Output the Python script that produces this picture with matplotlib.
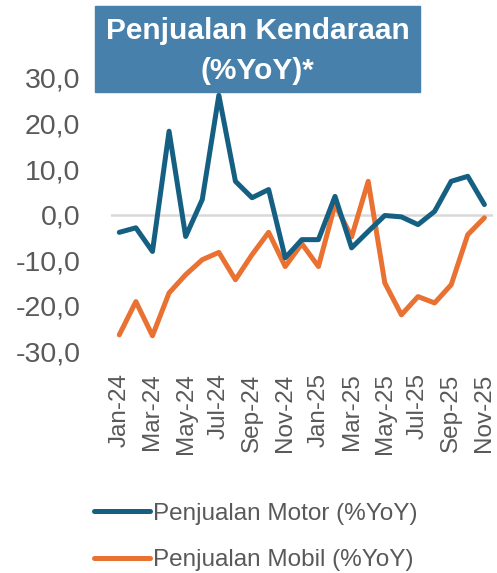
import matplotlib
matplotlib.use("Agg")
import matplotlib.pyplot as plt
from matplotlib.patches import Rectangle

plt.rcParams['font.family'] = ['Liberation Sans', 'DejaVu Sans']

months = ["Jan-24", "Feb-24", "Mar-24", "Apr-24", "May-24", "Jun-24",
          "Jul-24", "Aug-24", "Sep-24", "Oct-24", "Nov-24", "Dec-24",
          "Jan-25", "Feb-25", "Mar-25", "Apr-25", "May-25", "Jun-25",
          "Jul-25", "Aug-25", "Sep-25", "Oct-25", "Nov-25"]
motor = [-3.9, -2.9, -8.1, 18.3, -4.8, 3.3, 26.2, 7.3, 3.7, 5.5, -9.5, -5.5,
         -5.5, 4.0, -7.3, -3.7, -0.2, -0.5, -2.2, 0.7, 7.3, 8.4, 2.2]
mobil = [-26.4, -19.1, -26.6, -17.2, -13.2, -9.9, -8.3, -14.3, -8.8, -3.9,
         -11.4, -6.4, -11.4, 2.2, -4.9, 7.3, -15.0, -22.0, -18.0, -19.4,
         -15.4, -4.4, -0.7]
yticks = [30, 20, 10, 0, -10, -20, -30]

C_MOTOR = "#156082"
C_MOBIL = "#E97132"
C_TEXT = "#595959"

fig = plt.figure(figsize=(4.97, 5.73), dpi=100)
ax = fig.add_axes([0.2233, 0.387, 0.768, 0.477])

x = range(len(months))
ax.axhline(0, color="#D9D9D9", lw=1.8, zorder=1)
l1, = ax.plot(x, motor, color=C_MOTOR, lw=3.6, solid_joinstyle="round",
              solid_capstyle="round", label="Penjualan Motor (%YoY)", zorder=3)
l2, = ax.plot(x, mobil, color=C_MOBIL, lw=3.6, solid_joinstyle="round",
              solid_capstyle="round", label="Penjualan Mobil (%YoY)", zorder=2)

ax.set_xlim(-0.5, len(months) - 0.5)
ax.set_ylim(-30, 30)
ax.set_yticks(yticks)
ax.set_yticklabels([f"{v:.1f}".replace(".", ",") for v in yticks],
                   fontsize=20.5, color=C_TEXT)
ax.set_xticks(list(x)[::2])
ax.set_xticklabels(months[::2], rotation=90, fontsize=17.5, color=C_TEXT)
ax.tick_params(axis="y", length=0, pad=22)
ax.tick_params(axis="x", length=0, pad=16)
for s in ax.spines.values():
    s.set_visible(False)

# title box
fig.patches.append(Rectangle((95 / 497, 1 - 92 / 573), 325 / 497, 86 / 573,
                             transform=fig.transFigure, color="#4680AB",
                             zorder=5))
fig.text(257.5 / 497, 1 - 51 / 573, "Penjualan Kendaraan\n(%YoY)*",
         ha="center", va="center", color="white", fontsize=21.5,
         fontweight="bold", linespacing=1.55, zorder=6)

fig.legend(handles=[l1, l2], loc="upper left",
           bbox_to_anchor=(72 / 497, 1 - 481 / 573), frameon=False,
           fontsize=17.5, labelcolor=C_TEXT, handlelength=2.3,
           handletextpad=0.12, labelspacing=1.0)

fig.savefig("out.png", dpi=100)
